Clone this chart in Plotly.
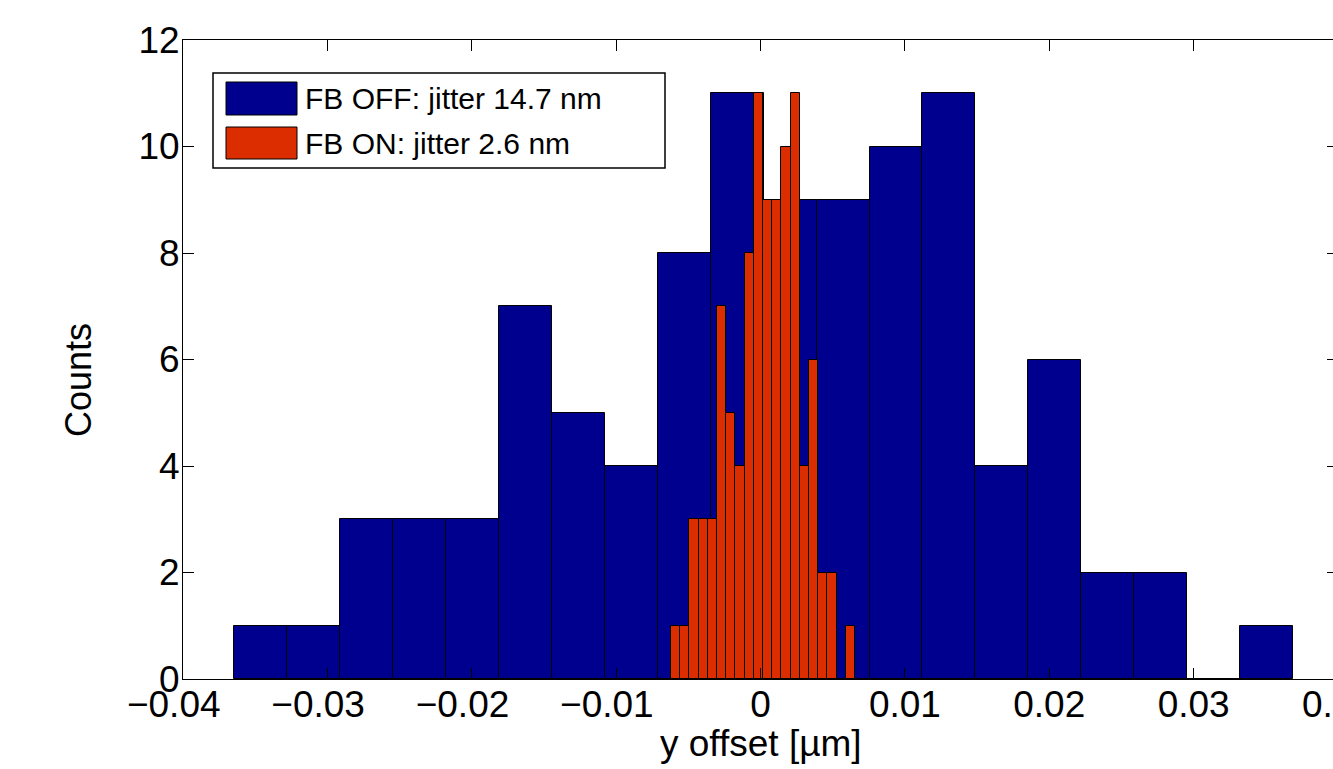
import plotly.graph_objects as go

# ---- data ----
off_counts = [1, 1, 3, 3, 3, 7, 5, 4, 8, 11, 9, 9, 10, 11, 4, 6, 2, 2, 0, 1]
off_start = -0.03649      # left edge of first FB OFF bin [um]
off_width = 0.003670      # FB OFF bin width [um]

on_counts = [1, 1, 3, 3, 3, 7, 5, 4, 8, 11, 9, 9, 10, 11, 4, 6, 2, 2, 0, 1]
on_start = -0.00620       # left edge of first FB ON bin [um]
on_width = 0.000637       # FB ON bin width [um]

off_name = "FB OFF: jitter 14.7 nm"
on_name = "FB ON: jitter 2.6 nm"
off_color = "#00008f"
on_color = "#dc2d00"

x_ticks = [-0.04, -0.03, -0.02, -0.01, 0, 0.01, 0.02, 0.03, 0.04]
x_ticktext = ["\u22120.04", "\u22120.03", "\u22120.02", "\u22120.01", "0", "0.01", "0.02", "0.03", "0.04"]
y_ticks = [0, 2, 4, 6, 8, 10, 12]
x_title = "y offset [\u00b5m]"
y_title = "Counts"

off_x = [off_start + off_width * (i + 0.5) for i in range(len(off_counts))]
on_x = [on_start + on_width * (i + 0.5) for i in range(len(on_counts))]
# negative labels in the original are centred on their digits, not on the minus sign
x_labels = [t + "\u2002" if t.startswith("\u2212") else t for t in x_ticktext]

FONT = "Liberation Sans, Arial, Helvetica, sans-serif"

fig = go.Figure()
fig.add_trace(go.Bar(x=off_x, y=off_counts, width=off_width, name=off_name,
                     marker=dict(color=off_color, line=dict(color="black", width=1)),
                     showlegend=False))
fig.add_trace(go.Bar(x=on_x, y=on_counts, width=on_width, name=on_name,
                     marker=dict(color=on_color, line=dict(color="black", width=1)),
                     showlegend=False))

# the original figure is slightly wider than the window: its right edge is cropped
W, H = 1380, 769
L, R, T, B = 183, 42, 40, 90
PW, PH = W - L - R, H - T - B


def px_x(p):
    return (p - L) / PW


def px_y(p):
    return (H - B - p) / PH


fig.update_layout(
    width=W, height=H,
    margin=dict(l=L, r=R, t=T, b=B, pad=0),
    paper_bgcolor="white", plot_bgcolor="white",
    barmode="overlay", bargap=0,
    font=dict(family=FONT, color="black"),
    xaxis=dict(range=[-0.04, 0.04], tickvals=x_ticks, ticktext=x_labels,
               ticks="inside", ticklen=11, tickcolor="black", tickwidth=1,
               showline=True, linecolor="black", linewidth=1, mirror="ticks",
               showgrid=False, zeroline=False, ticklabelstandoff=-7,
               automargin=False,
               tickfont=dict(size=37)),
    yaxis=dict(range=[0, 12], tickvals=y_ticks,
               ticks="inside", ticklen=11, tickcolor="black", tickwidth=1,
               showline=True, linecolor="black", linewidth=1, mirror="ticks",
               showgrid=False, zeroline=False, ticklabelstandoff=-5,
               automargin=False,
               tickfont=dict(size=37)),
)

# axis titles
fig.add_annotation(text=y_title, textangle=-90, xref="paper", yref="paper",
                   x=px_x(78), y=px_y(380), showarrow=False, font=dict(size=36),
                   xanchor="center", yanchor="middle")
fig.add_annotation(text=x_title, xref="paper", yref="paper",
                   x=px_x(761), y=px_y(743), showarrow=False, font=dict(size=37),
                   xanchor="center", yanchor="middle")

# manual legend (large swatches like the original)
fig.add_shape(type="rect", xref="paper", yref="paper",
              x0=px_x(213), x1=px_x(665), y0=px_y(168), y1=px_y(73),
              line=dict(color="black", width=1.5), fillcolor="white", layer="above")
for (name, color, y0, y1) in [(off_name, off_color, 82, 115), (on_name, on_color, 127, 159)]:
    fig.add_shape(type="rect", xref="paper", yref="paper",
                  x0=px_x(226), x1=px_x(297), y0=px_y(y1), y1=px_y(y0),
                  line=dict(color="black", width=1), fillcolor=color, layer="above")
    fig.add_annotation(text=name, xref="paper", yref="paper",
                       x=px_x(303), y=px_y((y0 + y1) / 2), xanchor="left", yanchor="middle",
                       showarrow=False, font=dict(size=30))

fig.write_html("out.html",
               config={"displayModeBar": False},
               post_script="document.body.style.margin='0px';document.body.style.overflow='hidden';")
